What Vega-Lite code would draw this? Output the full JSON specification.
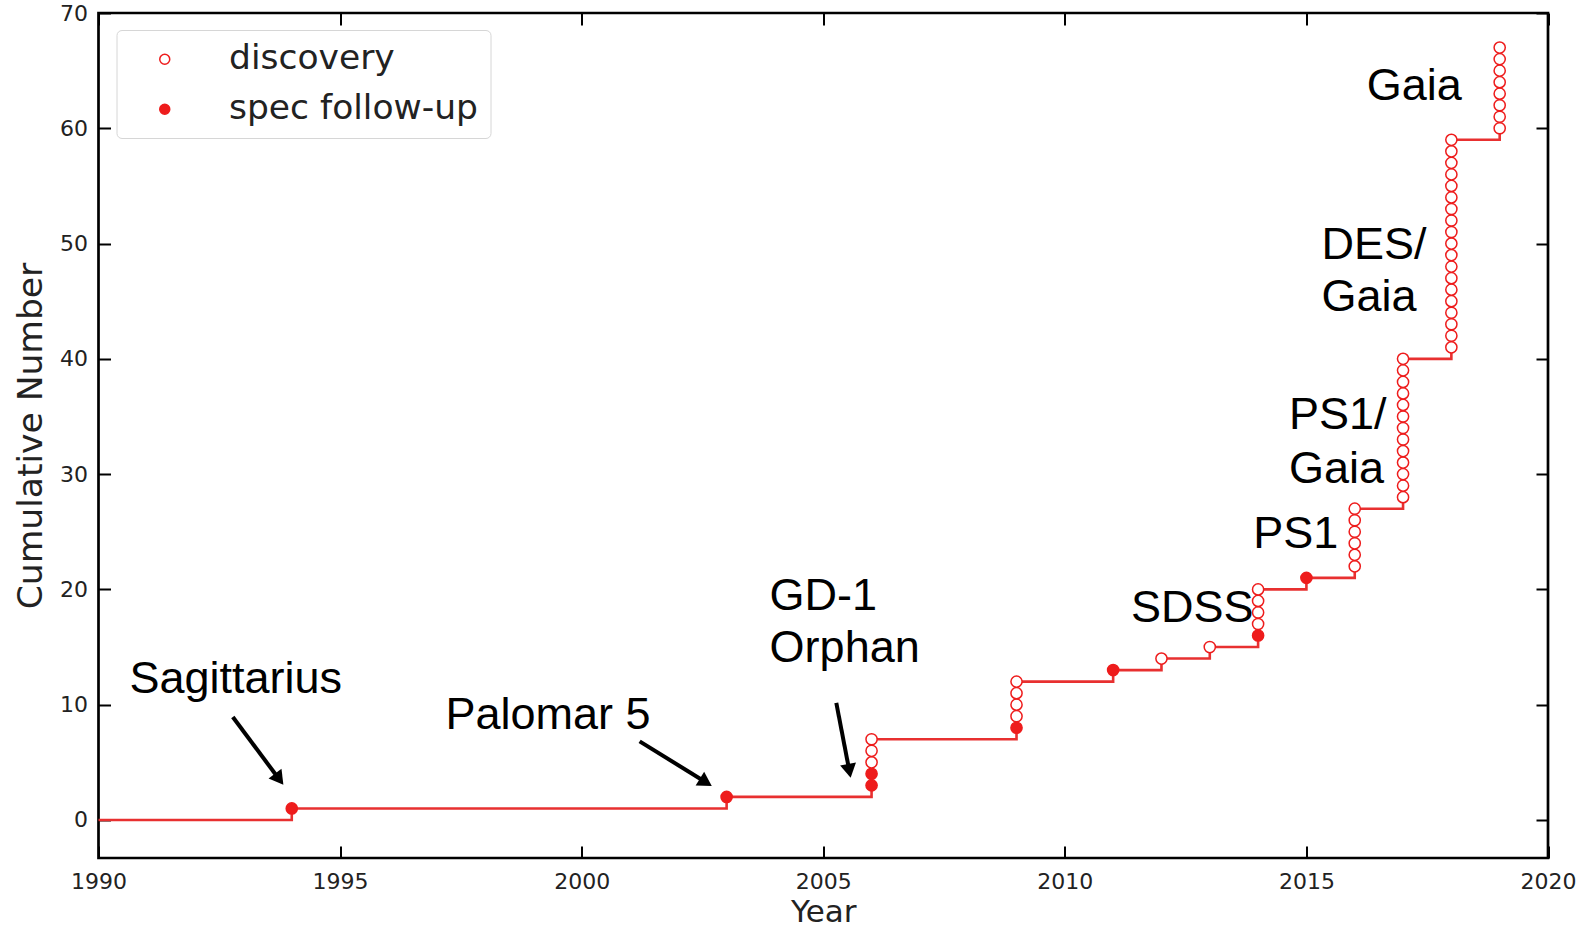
{
  "$schema": "https://vega.github.io/schema/vega-lite/v6.json",
  "width": 1449.5,
  "height": 845,
  "autosize": {"type": "none"},
  "padding": {"left": 98.5, "top": 13, "right": 40, "bottom": 71},
  "background": "white",
  "config": {"view": {"stroke": "black", "strokeWidth": 2.7}, "font": "DejaVu Sans"},
  "datasets": {
    "steps": [
      {"year": 1990, "count": 0}, {"year": 1994, "count": 1}, {"year": 2003, "count": 2},
      {"year": 2006, "count": 7}, {"year": 2009, "count": 12}, {"year": 2011, "count": 13},
      {"year": 2012, "count": 14}, {"year": 2013, "count": 15}, {"year": 2014, "count": 20},
      {"year": 2015, "count": 21}, {"year": 2016, "count": 27}, {"year": 2017, "count": 40},
      {"year": 2018, "count": 59}, {"year": 2019, "count": 67}
    ],
    "arrows": [
      {"name": "Sagittarius", "x": 1992.78, "y": 8.93, "x2": 1993.74, "y2": 3.53},
      {"name": "Palomar 5", "x": 2001.2, "y": 6.82, "x2": 2002.57, "y2": 3.27},
      {"name": "GD-1", "x": 2005.27, "y": 10.16, "x2": 2005.54, "y2": 4.26}
    ],
    "labels": [
      {"text": "Sagittarius", "x": 1990.64, "y": 12.26},
      {"text": "Palomar 5", "x": 1997.18, "y": 9.11},
      {"text": "GD-1", "x": 2003.89, "y": 19.47},
      {"text": "Orphan", "x": 2003.89, "y": 14.9},
      {"text": "SDSS", "x": 2011.37, "y": 18.41},
      {"text": "PS1", "x": 2013.9, "y": 24.83},
      {"text": "PS1/", "x": 2014.64, "y": 35.11},
      {"text": "Gaia", "x": 2014.64, "y": 30.44},
      {"text": "DES/", "x": 2015.31, "y": 49.87},
      {"text": "Gaia", "x": 2015.31, "y": 45.38},
      {"text": "Gaia", "x": 2016.25, "y": 63.66}
    ],
    "points": [
      {"year": 1994, "n": 1, "type": "spec follow-up"},
      {"year": 2003, "n": 2, "type": "spec follow-up"},
      {"year": 2006, "n": 3, "type": "spec follow-up"},
      {"year": 2006, "n": 4, "type": "spec follow-up"},
      {"year": 2006, "n": 5, "type": "discovery"},
      {"year": 2006, "n": 6, "type": "discovery"},
      {"year": 2006, "n": 7, "type": "discovery"},
      {"year": 2009, "n": 8, "type": "spec follow-up"},
      {"year": 2009, "n": 9, "type": "discovery"},
      {"year": 2009, "n": 10, "type": "discovery"},
      {"year": 2009, "n": 11, "type": "discovery"},
      {"year": 2009, "n": 12, "type": "discovery"},
      {"year": 2011, "n": 13, "type": "spec follow-up"},
      {"year": 2012, "n": 14, "type": "discovery"},
      {"year": 2013, "n": 15, "type": "discovery"},
      {"year": 2014, "n": 16, "type": "spec follow-up"},
      {"year": 2014, "n": 17, "type": "discovery"},
      {"year": 2014, "n": 18, "type": "discovery"},
      {"year": 2014, "n": 19, "type": "discovery"},
      {"year": 2014, "n": 20, "type": "discovery"},
      {"year": 2015, "n": 21, "type": "spec follow-up"},
      {"year": 2016, "n": 22, "type": "discovery"},
      {"year": 2016, "n": 23, "type": "discovery"},
      {"year": 2016, "n": 24, "type": "discovery"},
      {"year": 2016, "n": 25, "type": "discovery"},
      {"year": 2016, "n": 26, "type": "discovery"},
      {"year": 2016, "n": 27, "type": "discovery"},
      {"year": 2017, "n": 28, "type": "discovery"},
      {"year": 2017, "n": 29, "type": "discovery"},
      {"year": 2017, "n": 30, "type": "discovery"},
      {"year": 2017, "n": 31, "type": "discovery"},
      {"year": 2017, "n": 32, "type": "discovery"},
      {"year": 2017, "n": 33, "type": "discovery"},
      {"year": 2017, "n": 34, "type": "discovery"},
      {"year": 2017, "n": 35, "type": "discovery"},
      {"year": 2017, "n": 36, "type": "discovery"},
      {"year": 2017, "n": 37, "type": "discovery"},
      {"year": 2017, "n": 38, "type": "discovery"},
      {"year": 2017, "n": 39, "type": "discovery"},
      {"year": 2017, "n": 40, "type": "discovery"},
      {"year": 2018, "n": 41, "type": "discovery"},
      {"year": 2018, "n": 42, "type": "discovery"},
      {"year": 2018, "n": 43, "type": "discovery"},
      {"year": 2018, "n": 44, "type": "discovery"},
      {"year": 2018, "n": 45, "type": "discovery"},
      {"year": 2018, "n": 46, "type": "discovery"},
      {"year": 2018, "n": 47, "type": "discovery"},
      {"year": 2018, "n": 48, "type": "discovery"},
      {"year": 2018, "n": 49, "type": "discovery"},
      {"year": 2018, "n": 50, "type": "discovery"},
      {"year": 2018, "n": 51, "type": "discovery"},
      {"year": 2018, "n": 52, "type": "discovery"},
      {"year": 2018, "n": 53, "type": "discovery"},
      {"year": 2018, "n": 54, "type": "discovery"},
      {"year": 2018, "n": 55, "type": "discovery"},
      {"year": 2018, "n": 56, "type": "discovery"},
      {"year": 2018, "n": 57, "type": "discovery"},
      {"year": 2018, "n": 58, "type": "discovery"},
      {"year": 2018, "n": 59, "type": "discovery"},
      {"year": 2019, "n": 60, "type": "discovery"},
      {"year": 2019, "n": 61, "type": "discovery"},
      {"year": 2019, "n": 62, "type": "discovery"},
      {"year": 2019, "n": 63, "type": "discovery"},
      {"year": 2019, "n": 64, "type": "discovery"},
      {"year": 2019, "n": 65, "type": "discovery"},
      {"year": 2019, "n": 66, "type": "discovery"},
      {"year": 2019, "n": 67, "type": "discovery"}
    ]
  },
  "layer": [
    {
      "data": {"name": "steps"},
      "mark": {"type": "line", "interpolate": "step-after", "color": "#e83030", "strokeWidth": 2.6},
      "encoding": {
        "x": {"field": "year", "type": "quantitative",
          "scale": {"domain": [1990, 2020], "nice": false, "zero": false},
          "axis": {"orient": "bottom", "values": [1990, 1995, 2000, 2005, 2010, 2015, 2020], "format": "d",
            "domain": false, "grid": false, "tickSize": -12, "tickWidth": 2, "tickColor": "black",
            "labelFont": "DejaVu Sans", "labelFontSize": 22, "labelColor": "#222", "labelPadding": 25,
            "labelFlush": false, "labelOverlap": false,
            "title": "Year", "titleFont": "DejaVu Sans", "titleFontSize": 31, "titleFontWeight": "normal",
            "titleColor": "#222", "titleY": 63, "titleBaseline": "alphabetic"}},
        "y": {"field": "count", "type": "quantitative",
          "scale": {"domain": [-3.3, 70], "nice": false, "zero": false},
          "axis": {"orient": "left", "values": [0, 10, 20, 30, 40, 50, 60, 70], "format": "d",
            "domain": false, "grid": false, "tickSize": -12, "tickWidth": 2, "tickColor": "black",
            "labelFont": "DejaVu Sans", "labelFontSize": 22, "labelColor": "#222", "labelPadding": 23,
            "labelFlush": false, "labelOverlap": false,
            "title": "Cumulative Number", "titleFont": "DejaVu Sans", "titleFontSize": 34.5, "titleFontWeight": "normal",
            "titleColor": "#222", "titleX": -57, "titleY": 422.5, "titleBaseline": "alphabetic", "titleAngle": -90}}
      }
    },
    {
      "data": {"name": "arrows"},
      "mark": {"type": "rule", "color": "black", "strokeWidth": 4},
      "encoding": {
        "x": {"field": "x", "type": "quantitative", "axis": null},
        "y": {"field": "y", "type": "quantitative", "axis": null},
        "x2": {"field": "x2"},
        "y2": {"field": "y2"}
      }
    },
    {
      "data": {"name": "arrows"},
      "transform": [{"filter": "datum.name == 'Sagittarius'"}],
      "mark": {"type": "point", "shape": "triangle-up", "size": 260, "filled": true, "color": "black", "opacity": 1, "angle": 143.3},
      "encoding": {
        "x": {"field": "x2", "type": "quantitative", "axis": null},
        "y": {"field": "y2", "type": "quantitative", "axis": null}
      }
    },
    {
      "data": {"name": "arrows"},
      "transform": [{"filter": "datum.name == 'Palomar 5'"}],
      "mark": {"type": "point", "shape": "triangle-up", "size": 260, "filled": true, "color": "black", "opacity": 1, "angle": 121.8},
      "encoding": {
        "x": {"field": "x2", "type": "quantitative", "axis": null},
        "y": {"field": "y2", "type": "quantitative", "axis": null}
      }
    },
    {
      "data": {"name": "arrows"},
      "transform": [{"filter": "datum.name == 'GD-1'"}],
      "mark": {"type": "point", "shape": "triangle-up", "size": 260, "filled": true, "color": "black", "opacity": 1, "angle": 169.3},
      "encoding": {
        "x": {"field": "x2", "type": "quantitative", "axis": null},
        "y": {"field": "y2", "type": "quantitative", "axis": null}
      }
    },
    {
      "data": {"name": "points"},
      "mark": {"type": "point", "shape": "circle", "size": 125, "filled": true, "opacity": 1, "stroke": "#ee1c1c", "strokeWidth": 1.5},
      "encoding": {
        "x": {"field": "year", "type": "quantitative",
          "axis": {"orient": "top", "values": [1990, 1995, 2000, 2005, 2010, 2015, 2020], "labels": false,
            "domain": false, "grid": false, "tickSize": -12, "tickWidth": 2, "tickColor": "black", "title": null}},
        "y": {"field": "n", "type": "quantitative",
          "axis": {"orient": "right", "values": [0, 10, 20, 30, 40, 50, 60, 70], "labels": false,
            "domain": false, "grid": false, "tickSize": -12, "tickWidth": 2, "tickColor": "black", "title": null}},
        "fill": {"field": "type", "type": "nominal",
          "scale": {"domain": ["discovery", "spec follow-up"], "range": ["white", "#ee1c1c"]},
          "legend": {"orient": "none", "legendX": 18, "legendY": 17, "title": null,
            "padding": 12, "symbolOffset": 19, "labelOffset": 47, "symbolSize": 100,
            "symbolStrokeColor": "#ee1c1c", "symbolStrokeWidth": 1.5, "symbolType": "circle",
            "labelFont": "DejaVu Sans", "labelFontSize": 34.5, "labelColor": "#222", "labelLimit": 500, "rowPadding": 15,
            "strokeColor": "#d6d6d6", "fillColor": "white", "cornerRadius": 5}}
      }
    },
    {
      "data": {"name": "labels"},
      "mark": {"type": "text", "align": "left", "baseline": "middle", "font": "Liberation Sans", "fontSize": 45, "color": "black"},
      "encoding": {
        "x": {"field": "x", "type": "quantitative", "axis": null},
        "y": {"field": "y", "type": "quantitative", "axis": null},
        "text": {"field": "text"}
      }
    }
  ],
  "resolve": {"axis": {"x": "independent", "y": "independent"}}
}
